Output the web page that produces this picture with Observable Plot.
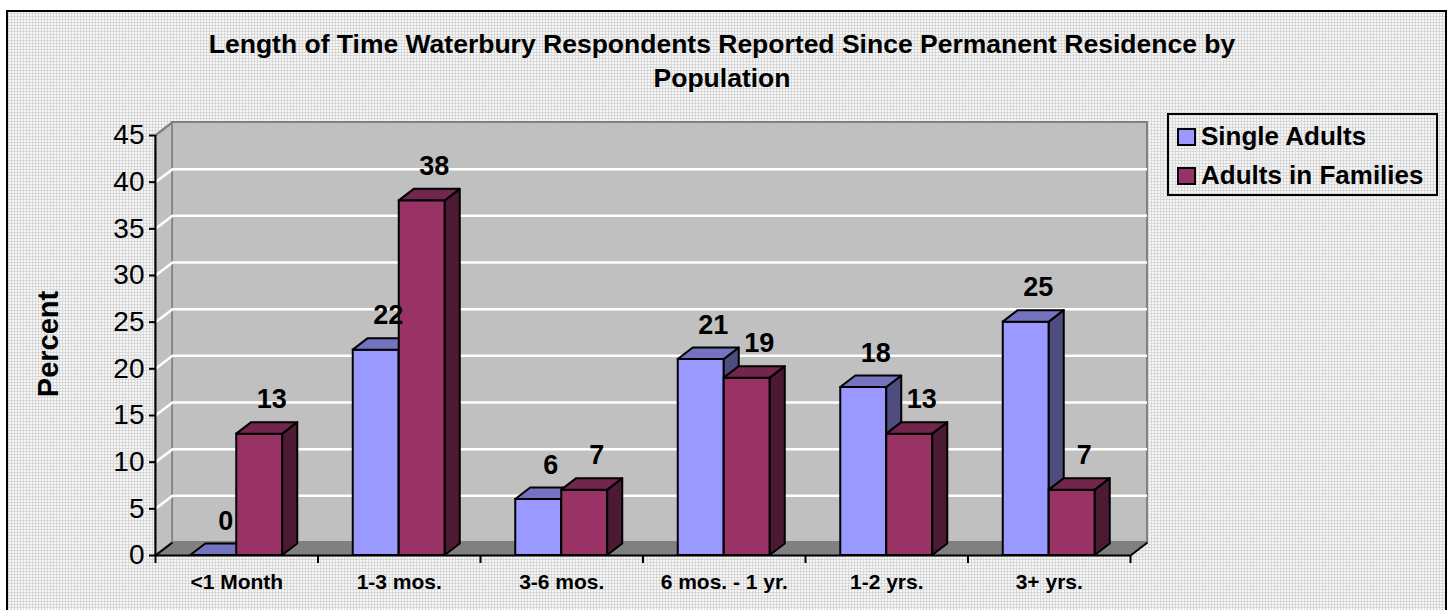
<!DOCTYPE html>
<html><head><meta charset="utf-8">
<script src="https://cdn.jsdelivr.net/npm/d3@7"></script>
<script src="https://cdn.jsdelivr.net/npm/@observablehq/plot@0.6"></script>
<style>
body{margin:0;background:#fff;font-family:"Liberation Sans",Arial,sans-serif;}
#frame{position:absolute;left:6px;top:10px;width:1437px;height:620px;border:2px solid #000;
 background-color:#f7f7f7;
 background-image:repeating-linear-gradient(0deg,#d8d8d8 0 1px,transparent 1px 3px),repeating-linear-gradient(90deg,#d8d8d8 0 1px,transparent 1px 3px);}
#chart{position:absolute;left:0;top:0;}
#title{position:absolute;left:0;top:27px;width:1444px;text-align:center;font-weight:bold;font-size:26.5px;line-height:34px;color:#000;}
#ylabel{position:absolute;left:48px;top:344px;transform:translate(-50%,-50%) rotate(-90deg);font-weight:bold;font-size:29px;white-space:nowrap;}
#legend{position:absolute;left:1167px;top:113px;width:267px;height:79px;border:2px solid #000;background:transparent;}
.item{position:absolute;left:8px;font-weight:bold;font-size:26px;white-space:nowrap;line-height:30px;}
.sw{display:inline-block;width:15px;height:14px;border:2px solid #000;margin-right:5px;vertical-align:-1px;}
</style></head>
<body>
<div id="frame"></div>
<div id="chart"></div>
<div id="title">Length of Time Waterbury Respondents Reported Since Permanent Residence by<br>Population</div>
<div id="ylabel">Percent</div>
<div id="legend"></div>
<script>
const categories = ["<1 Month", "1-3 mos.", "3-6 mos.", "6 mos. - 1 yr.", "1-2 yrs.", "3+ yrs."];
const singleAdults = [0, 22, 6, 21, 18, 25];
const adultsInFamilies = [13, 38, 7, 19, 13, 7];
const seriesNames = ["Single Adults", "Adults in Families"];
const yTicks = [0, 5, 10, 15, 20, 25, 30, 35, 40, 45];
const gridValues = [5, 10, 15, 20, 25, 30, 35, 40];

const W = 1452, H = 610;
const mL = 155, mR = 322, mT = 135, mB = 55;
const pxX = (W - mL - mR) / categories.length;
const pxY = (H - mT - mB) / 45;
// depth offsets converted to data units
const wX = 17 / pxX, wY = 13 / pxY;     // walls
const bX = 15 / pxX, bY = 11.5 / pxY;   // bars
const bw = 46 / pxX;

const styles = [
  {front: "#9999ff", top: "#7373bf", side: "#4d4d80"},
  {front: "#993366", top: "#73264d", side: "#4d1a33"}
];
const seriesValues = [singleAdults, adultsInFamilies];

function barsFor(s) {
  return seriesValues[s].map((v, i) => {
    const x1 = i + 0.5 + (s === 0 ? -bw : 0);
    return {id: s + "-" + i, x1, x2: x1 + bw, v};
  });
}

const marks = [];
// walls
marks.push(Plot.rect([0], {x1: wX, x2: 6 + wX, y1: wY, y2: 45 + wY, fill: "#c0c0c0", stroke: "#808080", strokeWidth: 2}));
marks.push(Plot.area([{x: 0, a: 0, b: 45}, {x: wX, a: wY, b: 45 + wY}], {x1: "x", y1: "a", y2: "b", fill: "#c0c0c0", stroke: "#808080", strokeWidth: 1.5}));
marks.push(Plot.ruleY(gridValues, {y: d => d + wY, x1: wX, x2: 6 + wX, stroke: "#fff", strokeWidth: 2.5}));
marks.push(Plot.link(gridValues, {x1: 0, y1: d => d, x2: wX, y2: d => d + wY, stroke: "#fff", strokeWidth: 2.5}));
marks.push(Plot.area([{y: 0, a: 0, b: 6}, {y: wY, a: wX, b: 6 + wX}], {y1: "y", x1: "a", x2: "b", fill: "#808080"}));
marks.push(Plot.link([45], {x1: 0, y1: d => d, x2: wX, y2: d => d + wY, stroke: "#808080", strokeWidth: 2}));

// bars
for (let s = 0; s < 2; s++) {
  const bars = barsFor(s);
  const st = styles[s];
  const side = bars.flatMap(b => [{id: b.id, x: b.x2, a: 0, c: b.v}, {id: b.id, x: b.x2 + bX, a: bY, c: b.v + bY}]);
  const top = bars.flatMap(b => [{id: b.id, y: b.v, a: b.x1, c: b.x2}, {id: b.id, y: b.v + bY, a: b.x1 + bX, c: b.x2 + bX}]);
  marks.push(Plot.rect(bars, {x1: "x1", x2: "x2", y1: 0, y2: "v", fill: st.front, stroke: "#000", strokeWidth: 2}));
  marks.push(Plot.area(side, {x1: "x", y1: "a", y2: "c", z: "id", fill: st.side, stroke: "#000", strokeWidth: 2, strokeLinejoin: "round"}));
  marks.push(Plot.area(top, {y1: "y", x1: "a", x2: "c", z: "id", fill: st.top, stroke: "#000", strokeWidth: 2, strokeLinejoin: "round"}));
}

// axes
marks.push(Plot.ruleX([0], {y1: 0, y2: 45, stroke: "#000", strokeWidth: 2}));
marks.push(Plot.ruleY([0], {x1: 0, x2: 6, stroke: "#000", strokeWidth: 2}));
marks.push(Plot.link([0, 6], {x1: d => d, y1: 0, x2: d => d + wX, y2: wY, stroke: "#000", strokeWidth: 2}));
marks.push(Plot.ruleY(yTicks, {y: d => d, x1: -6 / pxX, x2: 0, stroke: "#000", strokeWidth: 2}));
marks.push(Plot.ruleX(d3.range(categories.length + 1), {x: d => d, y1: -8 / pxY, y2: 0, stroke: "#000", strokeWidth: 2}));
marks.push(Plot.text(yTicks, {x: 0, y: d => d, text: d => String(d), dx: -11, textAnchor: "end", fontSize: 28, fill: "#000"}));
marks.push(Plot.text(categories, {x: (d, i) => i + 0.5, y: 0, text: d => d, dy: 27, fontSize: 21, fontWeight: "bold", fill: "#000"}));

// value labels
for (let s = 0; s < 2; s++) {
  const bars = barsFor(s);
  marks.push(Plot.text(bars, {x: b => (b.x1 + b.x2) / 2, y: "v", text: b => String(b.v), dx: 12, dy: -26, lineAnchor: "bottom", fontSize: 27, fontWeight: "bold", fill: "#000"}));
}

const chart = Plot.plot({
  width: W, height: H,
  marginLeft: mL, marginRight: mR, marginTop: mT, marginBottom: mB,
  x: {type: "linear", domain: [0, categories.length], axis: null},
  y: {type: "linear", domain: [0, 45], axis: null},
  style: {background: "transparent", fontFamily: "Liberation Sans, Arial, sans-serif", overflow: "visible"},
  marks
});
document.getElementById("chart").appendChild(chart);

// legend
const legend = document.getElementById("legend");
seriesNames.forEach((name, s) => {
  const item = document.createElement("div");
  item.className = "item";
  item.style.top = (s === 0 ? 6 : 45) + "px";
  item.innerHTML = `<span class="sw" style="background:${styles[s].front}"></span>`;
  item.appendChild(document.createTextNode(name));
  legend.appendChild(item);
});
</script>
</body></html>
